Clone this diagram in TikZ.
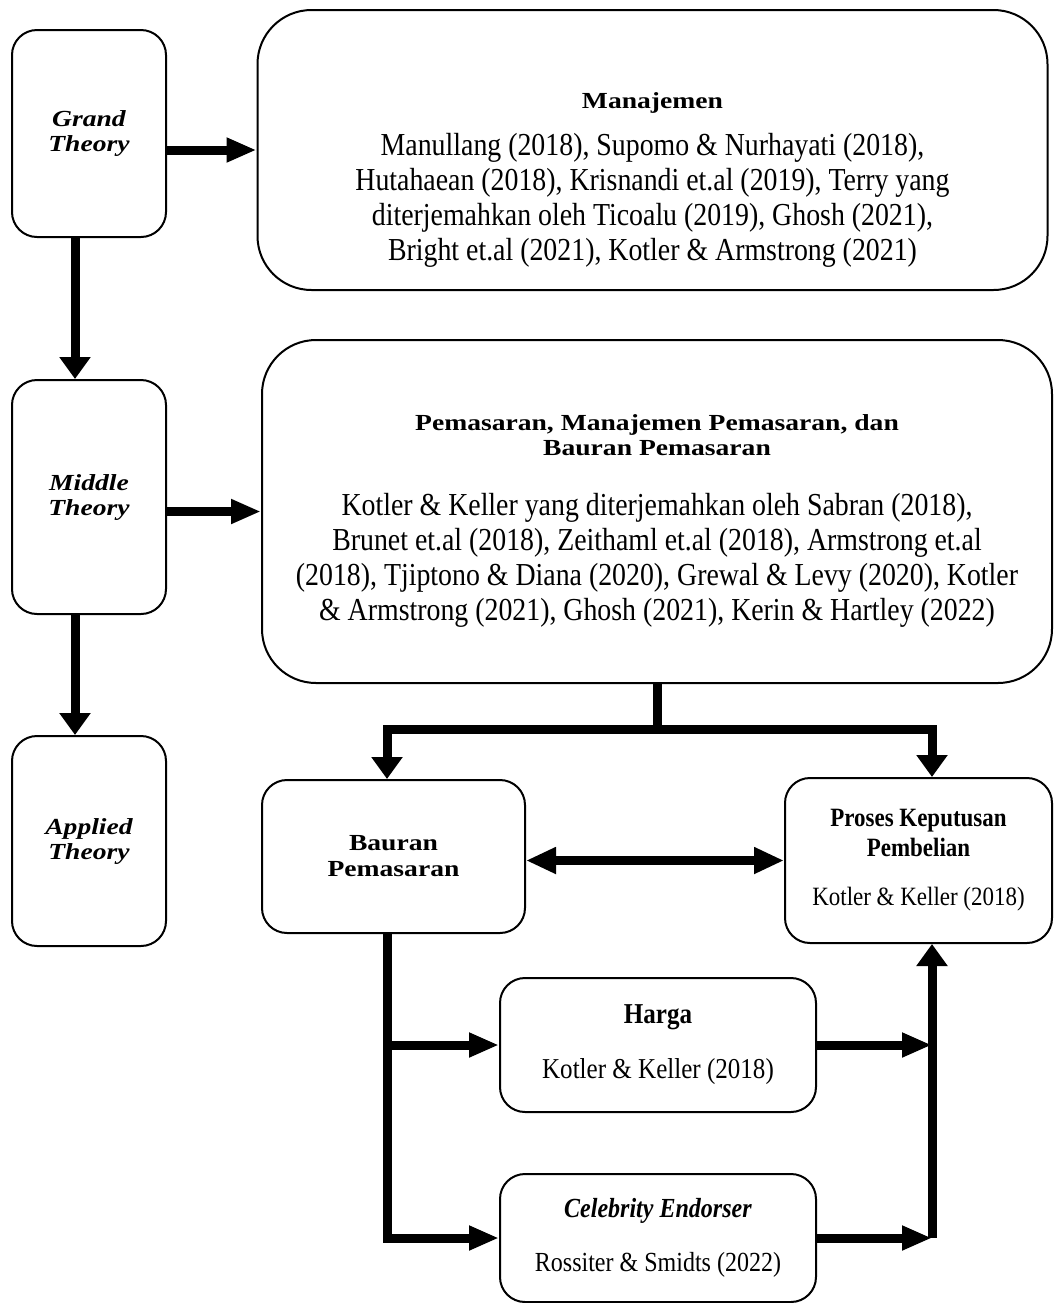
\documentclass[tikz,border=0pt]{standalone}
\usepackage{fontspec}
\setmainfont{Liberation Serif}[FakeStretch=0.87]
\newfontfamily\widefont{Liberation Serif}[FakeStretch=1.2]
\usetikzlibrary{positioning,arrows.meta}

\newcommand{\hdtext}[1]{{\widefont\bfseries\fontsize{11.5}{12.5}\selectfont #1}}

\tikzset{
  box/.style={draw, line width=1pt, rounded corners=12.5pt, align=center, inner sep=2pt},
  theory/.style={box, minimum width=77pt, font=\widefont\bfseries\itshape\fontsize{11.5}{12.5}\selectfont},
  bigbox/.style={box, rounded corners=27pt, minimum width=395pt, font=\fontsize{16}{17.5}\selectfont},
  mixbox/.style={box, font=\widefont\bfseries\fontsize{11.5}{13}\selectfont},
  subbox/.style={box, font=\fontsize{14.4}{15}\selectfont},
  link/.style={line width=4.5pt},
  varr/.style={link, -{Triangle[length=11pt,width=15pt]}},
  harr/.style={link, -{Triangle[length=15pt,width=11.5pt]}},
  dblarr/.style={link, {Triangle[length=15pt,width=12.5pt]}-{Triangle[length=15pt,width=12.5pt]}},
}

\begin{document}
\begin{tikzpicture}[x=0.5pt, y=-0.5pt]
  \useasboundingbox (0,0) rectangle (1056,1303);

  %Define nodes
  \node[theory, minimum height=103.5pt] (grand) at (89,133.5) {Grand\\Theory};
  \node[theory, minimum height=117pt, below=70.5pt of grand] (middle) {Middle\\Theory};
  \node[theory, minimum height=105pt, below=60pt of middle] (applied) {Applied\\Theory};

  \node[bigbox, minimum height=140pt] (manajemen) at (652.5,150)
    {\rule{0pt}{37.7pt}\hdtext{Manajemen}\\[6pt]
     Manullang (2018), Supomo \& Nurhayati (2018),\\
     Hutahaean (2018), Krisnandi et.al (2019), Terry yang\\
     diterjemahkan oleh Ticoalu (2019), Ghosh (2021),\\
     Bright et.al (2021), Kotler \& Armstrong (2021)};
  \node[bigbox, minimum height=171.5pt] (pemasaran) at (657,511.5)
    {\rule{0pt}{17.7pt}\hdtext{Pemasaran, Manajemen Pemasaran, dan}\\[-5pt]
     \hdtext{Bauran Pemasaran}\\[12.5pt]
     Kotler \& Keller yang diterjemahkan oleh Sabran (2018),\\
     Brunet et.al (2018), Zeithaml et.al (2018), Armstrong et.al\\
     (2018), Tjiptono \& Diana (2020), Grewal \& Levy (2020), Kotler\\
     \& Armstrong (2021), Ghosh (2021), Kerin \& Hartley (2022)};

  \node[mixbox, minimum width=131.5pt, minimum height=76.5pt] (bauran) at (393.5,856.5) {Bauran\\Pemasaran};
  \node[subbox, minimum width=133.5pt, minimum height=82.5pt, font=\fontsize{13.2}{15}\selectfont] (proses) at (918.5,860.5)
    {\textbf{Proses Keputusan}\\\textbf{Pembelian}\\[9.5pt]Kotler \& Keller (2018)};
  \node[subbox, minimum width=158pt, minimum height=67pt] (harga) at (658,1045)
    {\textbf{Harga}\\[12.5pt]Kotler \& Keller (2018)};
  \node[subbox, minimum width=158pt, minimum height=64pt, below=30pt of harga, font=\fontsize{13.8}{15}\selectfont] (celebrity)
    {\textbf{\textit{Celebrity Endorser}}\\[12pt]Rossiter \& Smidts (2022)};

  % Helper coordinates
  \coordinate (lx) at (75,0);
  \coordinate (bx) at (387,0);
  \coordinate (px) at (932,0);
  \coordinate (split) at (0,729);

  % Connect the nodes
  \draw[harr] (grand.east |- manajemen.west) -- (manajemen.west);
  \draw[varr] (grand.south -| lx) -- (middle.north -| lx);
  \draw[harr] (middle.east |- pemasaran.west) -- (pemasaran.west);
  \draw[varr] (middle.south -| lx) -- (applied.north -| lx);
  \draw[varr] (pemasaran.south) |- (split -| bx) -- (bauran.north -| bx);
  \draw[varr] (pemasaran.south) |- (split -| px) -- (proses.north -| px);
  \draw[dblarr] (bauran.east |- proses.west) -- (proses.west);
  \draw[harr] (bauran.south -| bx) |- (celebrity.west);
  \draw[harr] (bx |- harga.west) -- (harga.west);
  \draw[harr] (harga.east) -- (px |- harga.east);
  \draw[harr] (celebrity.east) -- (px |- celebrity.east);
  \draw[varr] (px |- celebrity.east) -- (proses.south -| px);

\end{tikzpicture}
\end{document}
